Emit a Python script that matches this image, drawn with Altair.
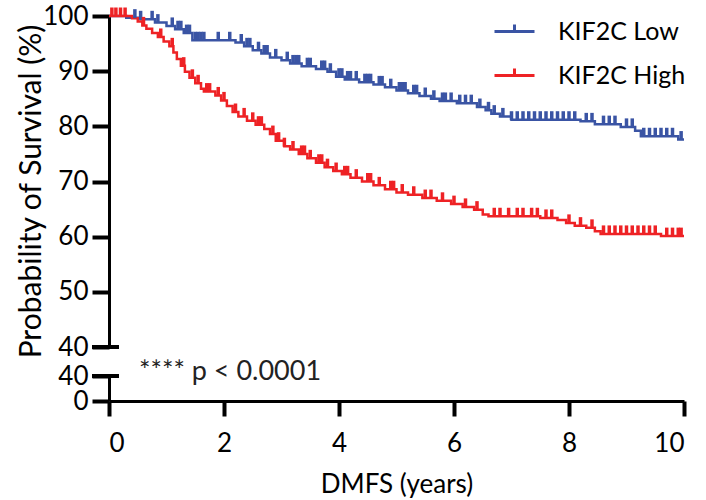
import altair as alt
import numpy as np
import pandas as pd

# ---- data ----
groups = ["KIF2C Low", "KIF2C High"]
colors = ["#3A54A4", "#EE2225"]

low_times = [0, 0.3, 0.55, 0.8, 1.0, 1.15, 1.3, 1.45, 2.2, 2.35, 2.5, 2.65, 2.8, 3.0,
             3.15, 3.35, 3.6, 3.8, 3.95, 4.1, 4.35, 4.6, 4.8, 5.0, 5.2, 5.4, 5.6, 5.75,
             6.05, 6.4, 6.55, 6.65, 6.8, 7.0, 8.2, 8.45, 8.9, 9.15, 9.25, 9.9]
low_surv = [100, 99.7, 99.4, 98.8, 98.2, 97.6, 96.9, 95.6, 95.2, 94.5, 93.8, 93.2, 92.5, 92.0,
            91.4, 90.9, 90.4, 89.9, 89.0, 88.5, 88.0, 87.6, 87.1, 86.5, 86.0, 85.5, 85.0, 84.6,
            84.2, 83.5, 82.9, 82.3, 81.8, 81.2, 80.9, 80.4, 79.9, 79.2, 78.2, 77.6]

high_times = [0, 0.4, 0.5, 0.58, 0.65, 0.75, 0.85, 0.95, 1.05, 1.12, 1.18, 1.25, 1.32, 1.4,
              1.5, 1.6, 1.65, 1.85, 1.95, 2.05, 2.15, 2.25, 2.4, 2.55, 2.7, 2.8, 2.9, 3.05,
              3.15, 3.3, 3.45, 3.6, 3.75, 3.9, 4.05, 4.2, 4.4, 4.6, 4.8, 5.0, 5.2, 5.45,
              5.7, 5.95, 6.15, 6.35, 6.5, 6.6, 7.5, 7.8, 7.95, 8.1, 8.3, 8.45, 8.55, 9.6]
high_surv = [100, 99.6, 99.0, 98.3, 97.7, 96.9, 96.2, 95.4, 94.5, 93.4, 92.2, 91.0, 89.9, 88.8,
             87.8, 86.8, 86.3, 85.6, 84.7, 83.7, 82.6, 81.8, 81.0, 80.3, 79.5, 78.6, 77.4, 76.4,
             75.8, 75.0, 74.2, 73.4, 72.6, 71.9, 71.3, 70.7, 70.0, 69.3, 68.6, 68.0, 67.6, 67.0,
             66.5, 65.9, 65.4, 64.9, 64.0, 63.7, 63.4, 63.0, 62.5, 62.0, 61.6, 61.0, 60.5, 60.1]

low_censor = [0.45, 0.55, 0.75, 0.85, 1.1, 1.2, 1.25, 1.35, 1.4, 1.5, 1.55, 1.6, 1.65, 1.9,
              2.1, 2.3, 2.4, 2.45, 2.6, 2.7, 2.75, 2.9, 3.1, 3.2, 3.25, 3.3, 3.45, 3.5, 3.7,
              3.75, 3.85, 4.0, 4.05, 4.15, 4.2, 4.3, 4.45, 4.5, 4.55, 4.7, 4.75, 4.9, 5.05,
              5.1, 5.15, 5.3, 5.35, 5.5, 5.65, 5.8, 5.85, 5.95, 6.1, 6.2, 6.3, 6.45, 6.6,
              6.7, 6.85, 7.0, 7.1, 7.2, 7.3, 7.4, 7.5, 7.6, 7.7, 7.8, 7.9, 8.0, 8.1, 8.3,
              8.4, 8.6, 8.7, 8.8, 9.0, 9.1, 9.3, 9.4, 9.5, 9.6, 9.7, 9.8, 9.95]
high_censor = [0.05, 0.12, 0.2, 0.28, 0.6, 0.9, 1.1, 1.3, 1.45, 1.55, 1.7, 1.75, 1.9, 2.0,
               2.2, 2.35, 2.5, 2.6, 2.65, 2.85, 2.95, 3.05, 3.2, 3.35, 3.4, 3.5, 3.65, 3.7,
               3.8, 3.95, 4.1, 4.15, 4.3, 4.5, 4.55, 4.7, 4.9, 4.95, 5.1, 5.3, 5.5, 5.6,
               5.8, 6.0, 6.2, 6.4, 6.7, 6.8, 6.95, 7.1, 7.2, 7.35, 7.45, 7.6, 7.7, 8.0,
               8.2, 8.4, 8.6, 8.7, 8.8, 8.9, 9.0, 9.1, 9.2, 9.3, 9.4, 9.5, 9.7, 9.8, 9.9, 9.95]

x_ticks = [0, 2, 4, 6, 8, 10]
y_ticks_top = [40, 50, 60, 70, 80, 90, 100]
y_ticks_bottom = [0, 40]
p_label = "**** p < 0.0001"
x_title = "DMFS (years)"
y_title = "Probability of Survival (%)"

FONT = "Lato"


def step_frame(times, surv, name):
    t = list(times) + [x_ticks[-1]]
    s = list(surv) + [surv[-1]]
    return pd.DataFrame({"time": t, "surv": s, "group": name})


def censor_frame(times, surv, ctimes, name):
    idx = np.searchsorted(np.array(times), np.array(ctimes), side="right") - 1
    return pd.DataFrame({"time": ctimes, "surv": np.array(surv)[idx], "group": name})


curves = pd.concat([step_frame(low_times, low_surv, groups[0]),
                    step_frame(high_times, high_surv, groups[1])])
cens = pd.concat([censor_frame(low_times, low_surv, low_censor, groups[0]),
                  censor_frame(high_times, high_surv, high_censor, groups[1])])

x_scale = alt.Scale(domain=[x_ticks[0], x_ticks[-1]], nice=False)
y_top_scale = alt.Scale(domain=[y_ticks_top[0], y_ticks_top[-1]], nice=False, zero=False)
y_bot_scale = alt.Scale(domain=[y_ticks_bottom[0], y_ticks_bottom[-1]], nice=False)
color_scale = alt.Scale(domain=groups, range=colors)

axis_common = dict(domainColor="black", domainWidth=3, tickColor="black", tickWidth=4,
                   labelFont=FONT, labelFontSize=26, labelColor="black", grid=False,
                   titleFont=FONT, titleFontWeight="normal", titleColor="black")

y_top_axis = alt.Axis(values=y_ticks_top, tickSize=17, labelPadding=4, title=y_title,
                      titleX=-78, titleY=175, titleBaseline="middle", titleAngle=-90,
                      titleFontSize=30, **axis_common)

legend = alt.Legend(orient="none", legendX=384, legendY=-6, title=None,
                    symbolType="M-1,0H1M0,0V-0.35", symbolSize=1600, symbolStrokeWidth=3,
                    symbolOpacity=1,
                    labelFont=FONT, labelFontSize=25, labelColor="black", labelOffset=22,
                    rowPadding=9, padding=0)

lines = alt.Chart(curves).mark_line(interpolate="step-after", strokeWidth=2.5).encode(
    x=alt.X("time:Q", scale=x_scale, axis=None),
    y=alt.Y("surv:Q", scale=y_top_scale, axis=y_top_axis),
    color=alt.Color("group:N", scale=color_scale, legend=legend),
)

ticks = alt.Chart(cens).mark_tick(orient="vertical", size=9, thickness=3.5, yOffset=-4,
                                  opacity=1).encode(
    x=alt.X("time:Q", scale=x_scale, axis=None),
    y=alt.Y("surv:Q", scale=y_top_scale),
    color=alt.Color("group:N", scale=color_scale, legend=None),
)

brk_top_df = pd.DataFrame({"time": [x_ticks[0]], "surv": [y_ticks_top[0]]})
brk_top = alt.Chart(brk_top_df).mark_tick(orient="horizontal", size=27, thickness=4,
                                          xOffset=-3.5, color="black", opacity=1).encode(
    x=alt.X("time:Q", scale=x_scale, axis=None),
    y=alt.Y("surv:Q", scale=y_top_scale),
)

top = alt.layer(lines, ticks, brk_top).properties(width=575, height=331)

brk_bot_df = pd.DataFrame({"time": [x_ticks[0]], "surv": [y_ticks_bottom[-1]], "label": [p_label]})
brk_bot = alt.Chart(brk_bot_df).mark_tick(orient="horizontal", size=27, thickness=4,
                                          xOffset=-3.5, color="black", opacity=1).encode(
    x=alt.X("time:Q", scale=x_scale,
            axis=alt.Axis(values=x_ticks, tickSize=15, labelPadding=14, title=x_title,
                          titlePadding=15, titleFontSize=26, **axis_common)),
    y=alt.Y("surv:Q", scale=y_bot_scale,
            axis=alt.Axis(values=y_ticks_bottom, tickSize=17, labelPadding=4, title=None,
                          **axis_common)),
)
ptext = alt.Chart(brk_bot_df).mark_text(font=FONT, fontSize=27, color="#222222",
                                        align="left", baseline="middle").encode(
    x=alt.value(30), y=alt.value(-4), text="label:N")

bottom = alt.layer(brk_bot, ptext).properties(width=575, height=25)

chart = alt.vconcat(top, bottom, spacing=29, bounds="flush").resolve_scale(
    x="shared", y="independent", color="shared"
).properties(
    padding={"left": 15, "top": 3, "right": 5, "bottom": 5}, background="white"
).configure_view(stroke=None)

chart.save("out.html", embed_options={"renderer": "svg", "actions": False})
